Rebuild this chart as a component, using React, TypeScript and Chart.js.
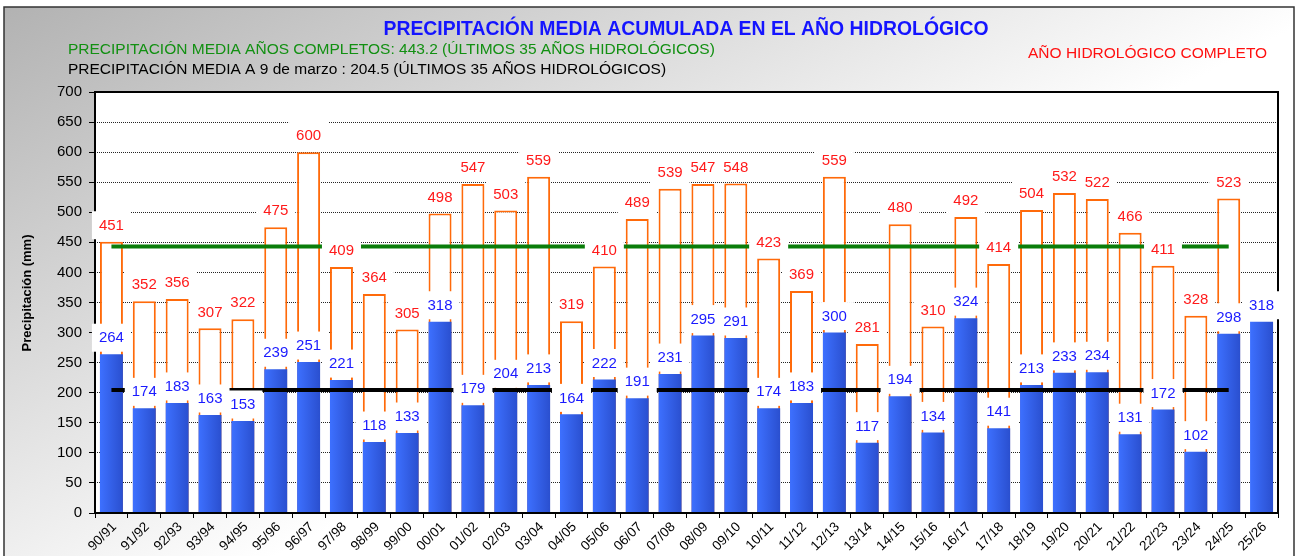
import React, { useEffect, useRef } from "react";
import { Chart, registerables } from "chart.js";

Chart.register(...registerables);

const SEASONS = [
  "90/91", "91/92", "92/93", "93/94", "94/95", "95/96", "96/97", "97/98", "98/99", "99/00",
  "00/01", "01/02", "02/03", "03/04", "04/05", "05/06", "06/07", "07/08", "08/09", "09/10",
  "10/11", "11/12", "12/13", "13/14", "14/15", "15/16", "16/17", "17/18", "18/19", "19/20",
  "20/21", "21/22", "22/23", "23/24", "24/25", "25/26",
];

// Full hydrological year totals (mm)
const FULL_YEAR = [
  451, 352, 356, 307, 322, 475, 600, 409, 364, 305,
  498, 547, 503, 559, 319, 410, 489, 539, 547, 548,
  423, 369, 559, 281, 480, 310, 492, 414, 504, 532,
  522, 466, 411, 328, 523, null,
];

// Accumulated to 9 March (mm)
const TO_DATE = [
  264, 174, 183, 163, 153, 239, 251, 221, 118, 133,
  318, 179, 204, 213, 164, 222, 191, 231, 295, 291,
  174, 183, 300, 117, 194, 134, 324, 141, 213, 233,
  234, 131, 172, 102, 298, 318,
];

const AVG_COMPLETE = 443.2;
const AVG_TO_DATE = 204.5;
const AVG_FIRST_INDEX = 0;
const AVG_LAST_INDEX = 34;

const Y_TICKS_MIN = 0;
const Y_TICKS_MAX = 700;
const Y_TICKS_STEP = 50;

const TITLE = "PRECIPITACIÓN MEDIA ACUMULADA EN EL AÑO HIDROLÓGICO";
const SUB_GREEN = "PRECIPITACIÓN MEDIA AÑOS COMPLETOS: 443.2 (ÚLTIMOS 35 AÑOS HIDROLÓGICOS)";
const SUB_BLACK = "PRECIPITACIÓN MEDIA A 9 de marzo : 204.5 (ÚLTIMOS 35 AÑOS HIDROLÓGICOS)";
const LEGEND_RED = "AÑO HIDROLÓGICO COMPLETO";
const Y_TITLE = "Precipitación (mm)";

const FONT = "'Liberation Sans', Arial, sans-serif";
const W = 1297;
const H = 556;
const BAR_PCT = 0.7;

export default function App() {
  const ref = useRef<HTMLCanvasElement | null>(null);

  useEffect(() => {
    const canvas = ref.current;
    if (!canvas) return;

    const decorPlugin = {
      id: "decor",
      beforeDraw(chart: any) {
        const { ctx, chartArea } = chart;
        ctx.save();
        ctx.fillStyle = "#ffffff";
        ctx.fillRect(0, 0, W, H);
        const g = ctx.createLinearGradient(4, 7, 286, 551);
        g.addColorStop(0, "#b2b2b2");
        g.addColorStop(1, "#ffffff");
        ctx.fillStyle = g;
        ctx.fillRect(4, 7, 1290, H);
        ctx.strokeStyle = "#333333";
        ctx.lineWidth = 1.5;
        ctx.strokeRect(4, 7, 1290, H + 10);
        ctx.fillStyle = "#ffffff";
        ctx.fillRect(chartArea.left, chartArea.top, chartArea.right - chartArea.left, chartArea.bottom - chartArea.top);

        // Texts
        ctx.textBaseline = "middle";
        ctx.textAlign = "center";
        ctx.fillStyle = "#1414ff";
        ctx.font = `bold 19.4px ${FONT}`;
        ctx.fillText(TITLE, 686, 30);

        ctx.textAlign = "left";
        ctx.font = `15.5px ${FONT}`;
        ctx.fillStyle = "#129012";
        ctx.fillText(SUB_GREEN, 68, 50);
        ctx.fillStyle = "#000000";
        ctx.fillText(SUB_BLACK, 68, 70);
        ctx.fillStyle = "#ff1010";
        ctx.fillText(LEGEND_RED, 1028, 54);

        ctx.save();
        ctx.translate(27, 293);
        ctx.rotate(-Math.PI / 2);
        ctx.textAlign = "center";
        ctx.font = `bold 13px ${FONT}`;
        ctx.fillStyle = "#000000";
        ctx.fillText(Y_TITLE, 0, 0);
        ctx.restore();
        ctx.restore();
      },
      afterDatasetsDraw(chart: any) {
        const { ctx, chartArea } = chart;
        const x = chart.scales.x;
        const y = chart.scales.y;
        ctx.save();
        // plot frame
        ctx.strokeStyle = "#000000";
        ctx.lineWidth = 2;
        ctx.strokeRect(chartArea.left, chartArea.top, chartArea.right - chartArea.left, chartArea.bottom - chartArea.top);

        // average lines
        const drawAvg = (v: number, color: string) => {
          const py = y.getPixelForValue(v);
          ctx.beginPath();
          ctx.strokeStyle = color;
          ctx.lineWidth = 4;
          ctx.moveTo(x.getPixelForValue(AVG_FIRST_INDEX), py);
          ctx.lineTo(x.getPixelForValue(AVG_LAST_INDEX), py);
          ctx.stroke();
        };
        drawAvg(AVG_COMPLETE, "#0a7d0a");
        drawAvg(AVG_TO_DATE, "#000000");

        // value labels
        ctx.font = `15px ${FONT}`;
        ctx.textAlign = "center";
        ctx.textBaseline = "middle";
        const drawLabel = (v: number | null, i: number, color: string) => {
          if (v === null || v === undefined) return;
          const px = x.getPixelForValue(i);
          const py = y.getPixelForValue(v) - 16.5;
          const s = String(v);
          const tw = ctx.measureText(s).width;
          ctx.fillStyle = "#ffffff";
          ctx.fillRect(px - tw / 2 - 7, py - 14, tw + 14, 28);
          ctx.fillStyle = color;
          ctx.fillText(s, px, py + 0.5);
        };
        FULL_YEAR.forEach((v, i) => drawLabel(v, i, "#ff1a1a"));
        TO_DATE.forEach((v, i) => drawLabel(v, i, "#1a1aff"));
        ctx.restore();
      },
    };

    const chart = new Chart(canvas, {
      type: "bar",
      data: {
        labels: SEASONS,
        datasets: [
          {
            label: "Año completo",
            data: FULL_YEAR as any,
            backgroundColor: "#ffffff",
            borderColor: "#ff6a0a",
            borderWidth: 2,
            barPercentage: BAR_PCT,
            categoryPercentage: 1,
            grouped: false,
            order: 2,
          } as any,
          {
            label: "A 9 de marzo",
            data: TO_DATE,
            backgroundColor: (c: any) => {
              const xs = c.chart.scales && c.chart.scales.x;
              if (!xs || c.dataIndex === undefined || !xs.width) return "#3366ff";
              const cx = xs.getPixelForValue(c.dataIndex);
              const w = (xs.width / SEASONS.length) * BAR_PCT;
              const g = c.chart.ctx.createLinearGradient(cx - w / 2, 0, cx + w / 2, 0);
              g.addColorStop(0, "#3d70ff");
              g.addColorStop(1, "#2a4fcf");
              return g;
            },
            borderWidth: 0,
            barPercentage: BAR_PCT,
            categoryPercentage: 1,
            grouped: false,
            order: 1,
          } as any,
        ],
      },
      options: {
        animation: false,
        responsive: false,
        devicePixelRatio: 1,
        layout: { padding: { left: 0, top: 92, right: 19, bottom: 0 } },
        plugins: {
          legend: { display: false },
          title: { display: false },
          tooltip: { enabled: false },
        },
        scales: {
          x: {
            grid: {
              display: true,
              drawOnChartArea: false,
              drawTicks: true,
              tickLength: 5,
              offset: true,
              color: "#000000",
              tickColor: "#000000",
              tickWidth: 1,
            },
            border: { display: false },
            ticks: {
              autoSkip: false,
              minRotation: 45,
              maxRotation: 45,
              padding: 1,
              labelOffset: 3,
              color: "#000000",
              font: { family: FONT, size: 13.5 },
            },
            afterFit: (s: any) => {
              s.height = 43;
            },
          },
          y: {
            min: Y_TICKS_MIN,
            max: Y_TICKS_MAX,
            ticks: {
              stepSize: Y_TICKS_STEP,
              padding: 7,
              color: "#000000",
              font: { family: FONT, size: 15 },
            },
            grid: {
              color: "rgba(0,0,0,0.85)",
              lineWidth: 1,
              tickLength: 6,
              tickColor: "#000000",
              tickWidth: 1,
              tickBorderDash: [],
            } as any,
            border: { display: false, dash: [1, 1] },
            afterFit: (s: any) => {
              s.width = 95;
            },
          },
        },
      },
      plugins: [decorPlugin],
    });

    return () => chart.destroy();
  }, []);

  return (
    <div style={{ position: "absolute", left: 0, top: 0, width: W, height: H }}>
      <canvas ref={ref} width={W} height={H} style={{ display: "block" }} />
    </div>
  );
}
